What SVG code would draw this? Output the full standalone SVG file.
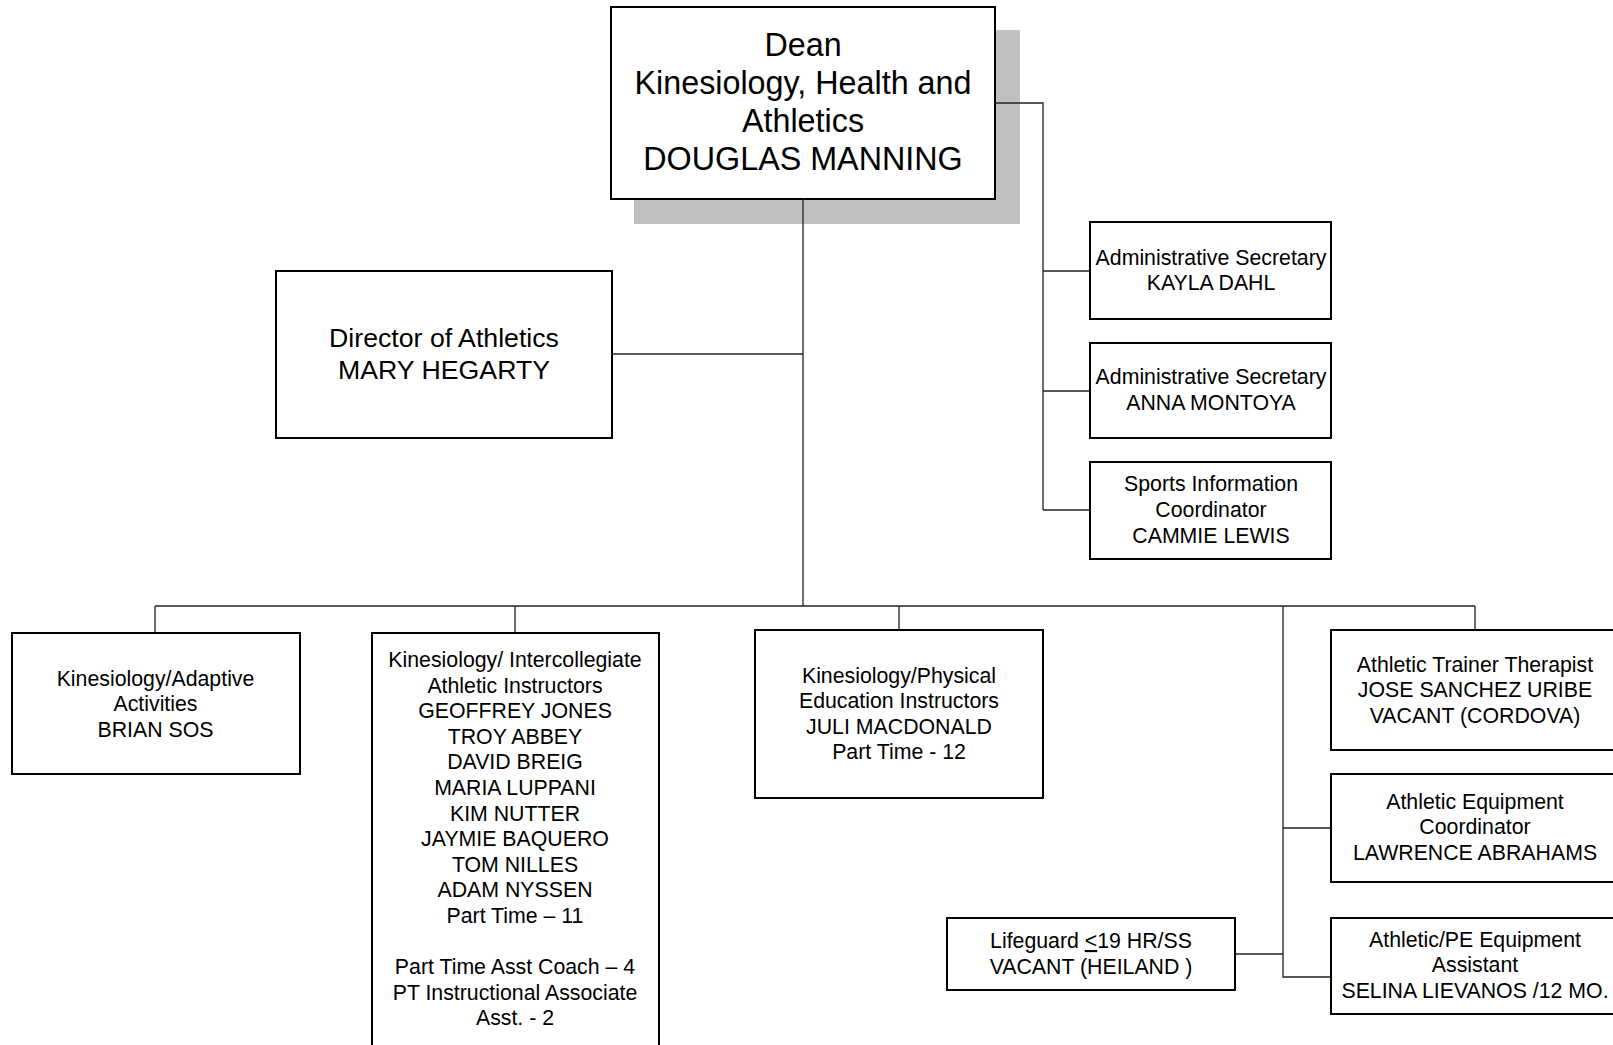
<svg xmlns="http://www.w3.org/2000/svg" width="1613" height="1045" viewBox="0 0 1613 1045">
<style>
.box{fill:#fff;stroke:#000;stroke-width:2}
.shadow{fill:#c0c0c0;stroke:none}
.conn{fill:none;stroke:#222;stroke-width:1.3}
text{font-family:"Liberation Sans",Arial,sans-serif;fill:#000;text-anchor:middle}
.t21{font-size:21.3px}
.t26{font-size:26.7px}
.t32{font-size:32.3px}
</style>
<rect width="1613" height="1045" fill="#fff"/>
<g id="dean">
<rect class="shadow" x="634" y="30" width="386" height="194"/>
<rect class="box" x="611" y="7" width="384" height="192"/>
<text class="t32" x="803" y="55.5">Dean</text>
<text class="t32" x="803" y="93.7">Kinesiology, Health and</text>
<text class="t32" x="803" y="131.9">Athletics</text>
<text class="t32" x="803" y="170">DOUGLAS MANNING</text>
</g>
<g id="connectors">
<path class="conn" d="M803 199V606"/>
<path class="conn" d="M612 354H803"/>
<path class="conn" d="M995 103H1043V510"/>
<path class="conn" d="M1043 271H1090M1043 391H1090M1043 510H1090"/>
<path class="conn" d="M155 606H1475"/>
<path class="conn" d="M155 606V633M515 606V633M899 606V630M1475 606V630"/>
<path class="conn" d="M1283 606V977H1331M1283 828H1331M1235 954H1283"/>
</g>
<g id="director">
<rect class="box" x="276" y="271" width="336" height="167"/>
<text class="t26" x="444" y="346.5">Director of Athletics</text>
<text class="t26" x="444" y="379">MARY HEGARTY</text>
</g>
<g id="admin1">
<rect class="box" x="1090" y="222" width="241" height="97"/>
<text class="t21" x="1211" y="264.5">Administrative Secretary</text>
<text class="t21" x="1211" y="290">KAYLA DAHL</text>
</g>
<g id="admin2">
<rect class="box" x="1090" y="343" width="241" height="95"/>
<text class="t21" x="1211" y="384">Administrative Secretary</text>
<text class="t21" x="1211" y="410">ANNA MONTOYA</text>
</g>
<g id="sports-info">
<rect class="box" x="1090" y="462" width="241" height="97"/>
<text class="t21" x="1211" y="491">Sports Information</text>
<text class="t21" x="1211" y="517">Coordinator</text>
<text class="t21" x="1211" y="542.5">CAMMIE LEWIS</text>
</g>
<g id="adaptive">
<rect class="box" x="12" y="633" width="288" height="141"/>
<text class="t21" x="155.5" y="685.5">Kinesiology/Adaptive</text>
<text class="t21" x="155.5" y="711">Activities</text>
<text class="t21" x="155.5" y="736.5">BRIAN SOS</text>
</g>
<g id="intercollegiate">
<rect class="box" x="372" y="633" width="287" height="430"/>
<text class="t21" x="515" y="667">Kinesiology/ Intercollegiate</text>
<text class="t21" x="515" y="692.6">Athletic Instructors</text>
<text class="t21" x="515" y="718.2">GEOFFREY JONES</text>
<text class="t21" x="515" y="743.8">TROY ABBEY</text>
<text class="t21" x="515" y="769.4">DAVID BREIG</text>
<text class="t21" x="515" y="795">MARIA LUPPANI</text>
<text class="t21" x="515" y="820.6">KIM NUTTER</text>
<text class="t21" x="515" y="846.2">JAYMIE BAQUERO</text>
<text class="t21" x="515" y="871.8">TOM NILLES</text>
<text class="t21" x="515" y="897.4">ADAM NYSSEN</text>
<text class="t21" x="515" y="923">Part Time – 11</text>
<text class="t21" x="515" y="974.2">Part Time Asst Coach – 4</text>
<text class="t21" x="515" y="999.8">PT Instructional Associate</text>
<text class="t21" x="515" y="1025.4">Asst. - 2</text>
</g>
<g id="physical-ed">
<rect class="box" x="755" y="630" width="288" height="168"/>
<text class="t21" x="899" y="682.5">Kinesiology/Physical</text>
<text class="t21" x="899" y="708">Education Instructors</text>
<text class="t21" x="899" y="733.5">JULI MACDONALD</text>
<text class="t21" x="899" y="759">Part Time - 12</text>
</g>
<g id="trainer">
<rect class="box" x="1331" y="630" width="292" height="120"/>
<text class="t21" x="1475" y="671.5">Athletic Trainer Therapist</text>
<text class="t21" x="1475" y="697">JOSE SANCHEZ URIBE</text>
<text class="t21" x="1475" y="722.5">VACANT (CORDOVA)</text>
</g>
<g id="equip-coord">
<rect class="box" x="1331" y="774" width="292" height="108"/>
<text class="t21" x="1475" y="808.5">Athletic Equipment</text>
<text class="t21" x="1475" y="834">Coordinator</text>
<text class="t21" x="1475" y="860">LAWRENCE ABRAHAMS</text>
</g>
<g id="equip-assistant">
<rect class="box" x="1331" y="918" width="292" height="96"/>
<text class="t21" x="1475" y="946.5">Athletic/PE Equipment</text>
<text class="t21" x="1475" y="972">Assistant</text>
<text class="t21" x="1475" y="998">SELINA LIEVANOS /12 MO.</text>
</g>
<g id="lifeguard">
<rect class="box" x="947" y="918" width="288" height="72"/>
<text class="t21" x="1091" y="948">Lifeguard <tspan text-decoration="underline">&lt;</tspan>19 HR/SS</text>
<text class="t21" x="1091" y="973.5">VACANT (HEILAND )</text>
</g>
</svg>
